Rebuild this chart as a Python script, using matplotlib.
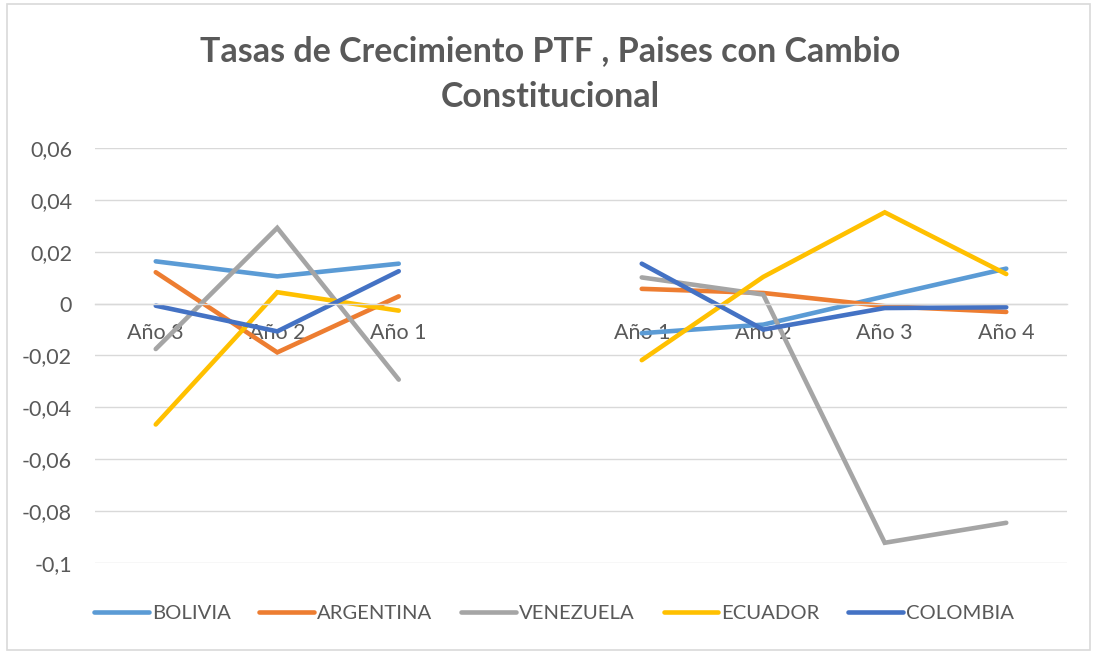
import matplotlib
matplotlib.use("Agg")
import matplotlib.pyplot as plt
import numpy as np
from matplotlib.patches import Rectangle

categories = ["Año 3", "Año 2", "Año 1", "", "Año 1", "Año 2", "Año 3", "Año 4"]
nan = np.nan
bolivia   = [0.0163, 0.0105, 0.0154, nan, -0.0114, -0.0081, 0.0028, 0.0135]
argentina = [0.0121, -0.0188, 0.0028, nan, 0.0057, 0.0041, -0.0010, -0.0032]
venezuela = [-0.0175, 0.0292, -0.0293, nan, 0.0101, 0.0035, -0.0922, -0.0845]
ecuador   = [-0.0466, 0.0044, -0.0027, nan, -0.0218, 0.0103, 0.0352, 0.0114]
colombia  = [-0.0008, -0.0107, 0.0125, nan, 0.0154, -0.0100, -0.0017, -0.0014]

series = [("BOLIVIA", bolivia, "#5B9BD5"),
          ("ARGENTINA", argentina, "#ED7D31"),
          ("VENEZUELA", venezuela, "#A5A5A5"),
          ("ECUADOR", ecuador, "#FFC000"),
          ("COLOMBIA", colombia, "#4472C4")]
yticks = [0.06, 0.04, 0.02, 0, -0.02, -0.04, -0.06, -0.08, -0.1]
ytick_labels = ["0,06", "0,04", "0,02", "0", "-0,02", "-0,04", "-0,06", "-0,08", "-0,1"]
title = "Tasas de Crecimiento PTF , Paises con Cambio\nConstitucional"

W, H = 1096, 654
fig = plt.figure(figsize=(W / 100, H / 100), dpi=100)
plt.rcParams['font.family'] = ['Lato', 'DejaVu Sans']

ax = fig.add_axes([95 / W, (H - 563) / H, (1067 - 95) / W, (563 - 148) / H])
x = np.arange(len(categories))
for name, vals, col in series:
    ax.plot(x, vals, color=col, lw=3.3, label=name, solid_capstyle='round',
            solid_joinstyle='miter')

ax.set_xlim(-0.5, len(categories) - 0.5)
ax.set_ylim(-0.1, 0.06)
ax.set_yticks(yticks)
ax.set_yticklabels(ytick_labels)
ax.set_xticks(x)
ax.set_xticklabels(categories)
ax.grid(axis='y', color='#D9D9D9', lw=1.0)
ax.set_axisbelow(True)
for s in ['top', 'right', 'left']:
    ax.spines[s].set_visible(False)
ax.spines['bottom'].set_position(('data', 0))
ax.spines['bottom'].set_color('#D9D9D9')
ax.spines['bottom'].set_linewidth(1.0)
ax.tick_params(axis='both', length=0, colors='#595959', labelsize=15.5)
ax.tick_params(axis='x', pad=14)
ax.tick_params(axis='y', pad=16.5)

fig.text(550 / W, 1 - 74 / H, title, ha='center', va='center', fontsize=24.5,
         fontweight='bold', color='#595959', linespacing=1.55)

leg = fig.legend(loc='center', bbox_to_anchor=(554 / W, 1 - 613 / H), ncol=5,
                 frameon=False, fontsize=14.6, handlelength=2.7, handletextpad=0.15,
                 columnspacing=1.42)
for t in leg.get_texts():
    t.set_color('#595959')

fig.patches.append(Rectangle((7 / W, 4 / H), (1090 - 7) / W, (650 - 4) / H,
                             transform=fig.transFigure, fill=False,
                             edgecolor='#D9D9D9', lw=1.2))

fig.savefig("out.png", dpi=100)
